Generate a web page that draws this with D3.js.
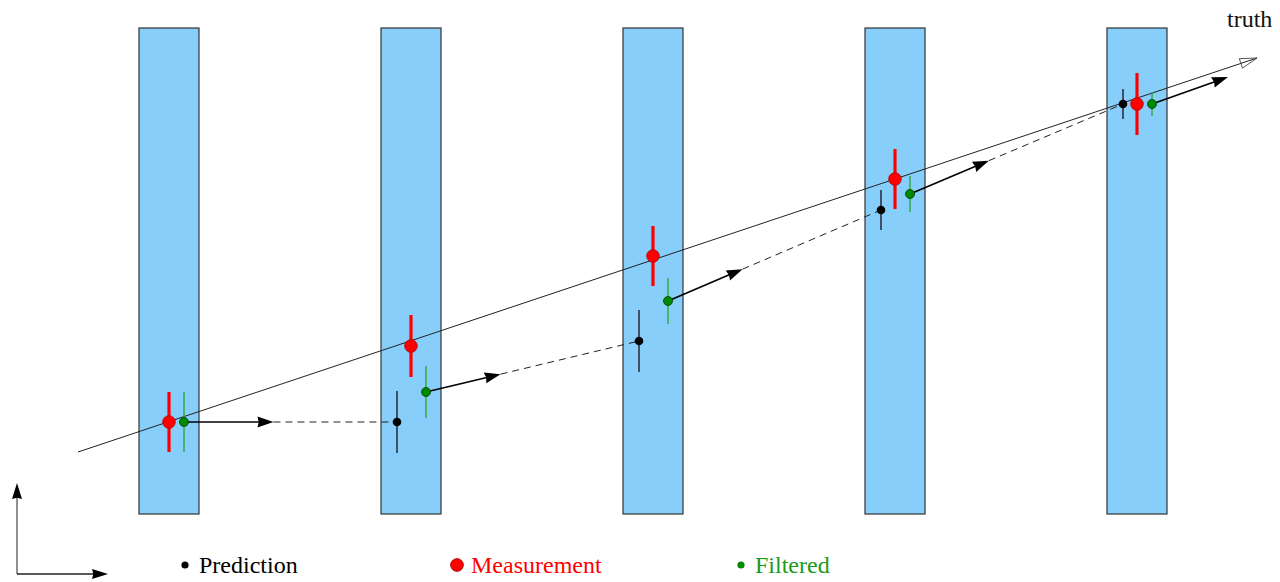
<!DOCTYPE html>
<html><head><meta charset="utf-8">
<script src="https://cdn.jsdelivr.net/npm/d3@7"></script>
<style>html,body{margin:0;padding:0;background:#fff;}svg{display:block;}
text{font-family:'Liberation Serif','Times New Roman',serif;}</style>
</head><body>
<svg id="chart" width="1280" height="582"></svg>
<script>
// ---- data ----
const layers = [0, 1, 2, 3, 4];
const measY = [92, 168, 258, 335, 410];
const measErr = [30, 31, 30, 30, 31];
const filtY = [92, 122, 213, 320, 410];
const filtErr = [30, 26, 23, 18, 12];
const predY = [null, 92, 173, 304, 410];
const predErr = [null, 31, 31, 20, 15];
const truthLayers = [-0.376, 4.496];
const truthY = [62, 456];
const arrowFrac = [0.42, 0.35, 0.35, 0.37];
const lastTipLayer = 4.376, lastTipY = 437;
const planeExtent = [0, 486];
const legendLabels = ["Prediction", "Measurement", "Filtered"];
const truthLabel = "truth";

// ---- scales ----
const svg = d3.select("#chart");
const x = d3.scaleLinear().domain([0, 4]).range([169, 1137]);
const y = d3.scaleLinear().domain([0, 486]).range([514, 28]);
const planeW = 60, predOff = -14, filtOff = 15;

// planes
svg.append("g").selectAll("rect").data(layers).join("rect")
  .attr("x", d => x(d) - planeW / 2).attr("y", y(planeExtent[1]))
  .attr("width", planeW).attr("height", y(planeExtent[0]) - y(planeExtent[1]))
  .attr("fill", "#87cefa").attr("stroke", "#333").attr("stroke-width", 1.2);

// truth line
const tx0 = x(truthLayers[0]), ty0 = y(truthY[0]), tx1 = x(truthLayers[1]), ty1 = y(truthY[1]);
svg.append("line").attr("x1", tx0).attr("y1", ty0).attr("x2", tx1).attr("y2", ty1)
  .attr("stroke", "#222").attr("stroke-width", 1);
{
  const a = Math.atan2(ty1 - ty0, tx1 - tx0), L = 17, W = 5;
  const bx = tx1 - L * Math.cos(a), by = ty1 - L * Math.sin(a);
  const p1 = [bx + W * Math.sin(a), by - W * Math.cos(a)], p2 = [bx - W * Math.sin(a), by + W * Math.cos(a)];
  svg.append("path").attr("d", `M${p1}L${tx1},${ty1}L${p2}Z`).attr("fill", "none").attr("stroke", "#444").attr("stroke-width", 0.9);
}
svg.append("text").attr("x", 1227).attr("y", 27).text(truthLabel)
  .attr("font-size", 24).attr("fill", "#111");

// arrow helper
function arrowHead(g, x0, y0, x1, y1, L, W) {
  const a = Math.atan2(y1 - y0, x1 - x0);
  const c = Math.cos(a), s = Math.sin(a);
  const bx = x1 - L * c, by = y1 - L * s;
  const p1 = [bx + W * s, by - W * c], p2 = [bx - W * s, by + W * c];
  const n = [x1 - L * 0.92 * c, y1 - L * 0.92 * s];
  g.append("path").attr("d", `M${p1}L${x1},${y1}L${p2}L${n}Z`).attr("fill", "#000");
}

// propagation arrows + dashed extrapolation
const ga = svg.append("g");
for (let i = 0; i < layers.length; i++) {
  const fx = x(layers[i]) + filtOff, fy = y(filtY[i]);
  let tipx, tipy;
  if (i < layers.length - 1) {
    const px = x(layers[i + 1]) + predOff, py = y(predY[i + 1]);
    tipx = fx + (px - fx) * arrowFrac[i]; tipy = fy + (py - fy) * arrowFrac[i];
    ga.append("line").attr("x1", tipx).attr("y1", tipy).attr("x2", px).attr("y2", py)
      .attr("stroke", "#222").attr("stroke-width", 1).attr("stroke-dasharray", "7,5");
  } else {
    tipx = x(lastTipLayer); tipy = y(lastTipY);
  }
  ga.append("line").attr("x1", fx).attr("y1", fy).attr("x2", tipx - (tipx - fx) * 0.1).attr("y2", tipy - (tipy - fy) * 0.1)
    .attr("stroke", "#000").attr("stroke-width", 1.6);
  arrowHead(ga, fx, fy, tipx, tipy, 16, 5.5);
}

// error bars
const ge = svg.append("g");
layers.forEach((l, i) => {
  if (predY[i] !== null) {
    ge.append("line").attr("x1", x(l) + predOff).attr("x2", x(l) + predOff)
      .attr("y1", y(predY[i] - predErr[i])).attr("y2", y(predY[i] + predErr[i]))
      .attr("stroke", "#2a3340").attr("stroke-width", 1.6);
  }
  ge.append("line").attr("x1", x(l)).attr("x2", x(l))
    .attr("y1", y(measY[i] - measErr[i])).attr("y2", y(measY[i] + measErr[i]))
    .attr("stroke", "#ff0000").attr("stroke-width", 3.2);
  ge.append("line").attr("x1", x(l) + filtOff).attr("x2", x(l) + filtOff)
    .attr("y1", y(filtY[i] - filtErr[i])).attr("y2", y(filtY[i] + filtErr[i]))
    .attr("stroke", "#2fa83a").attr("stroke-width", 1.4);
});
// dots
layers.forEach((l, i) => {
  if (predY[i] !== null) ge.append("circle").attr("cx", x(l) + predOff).attr("cy", y(predY[i])).attr("r", 4.3).attr("fill", "#000");
  ge.append("circle").attr("cx", x(l)).attr("cy", y(measY[i])).attr("r", 6.3).attr("fill", "#ff0000").attr("stroke", "#b00000").attr("stroke-width", 0.8);
  ge.append("circle").attr("cx", x(l) + filtOff).attr("cy", y(filtY[i])).attr("r", 4.5).attr("fill", "#008a00").attr("stroke", "#003a00").attr("stroke-width", 0.8);
});

// coordinate axes in corner
const gx = svg.append("g");
gx.append("line").attr("x1", 17).attr("y1", 574).attr("x2", 17).attr("y2", 495).attr("stroke", "#555").attr("stroke-width", 1.3);
arrowHead(gx, 17, 574, 17, 483, 16, 5);
gx.append("line").attr("x1", 17).attr("y1", 574).attr("x2", 96).attr("y2", 574).attr("stroke", "#222").attr("stroke-width", 1.3);
arrowHead(gx, 17, 574, 108, 574, 16, 5);

// legend
const legX = [185, 457, 741];
const legR = [3.6, 6.3, 3.6];
const legFill = ["#000", "#ff0000", "#008a00"];
const legText = ["#000", "#ff0000", "#1a9a1a"];
const gl = svg.append("g");
legendLabels.forEach((t, i) => {
  gl.append("circle").attr("cx", legX[i]).attr("cy", 565).attr("r", legR[i]).attr("fill", legFill[i])
    .attr("stroke", i === 1 ? "#b00000" : "none");
  gl.append("text").attr("x", legX[i] + 14).attr("y", 573).text(t)
    .attr("font-size", 24).attr("fill", legText[i]);
});
</script>
</body></html>
